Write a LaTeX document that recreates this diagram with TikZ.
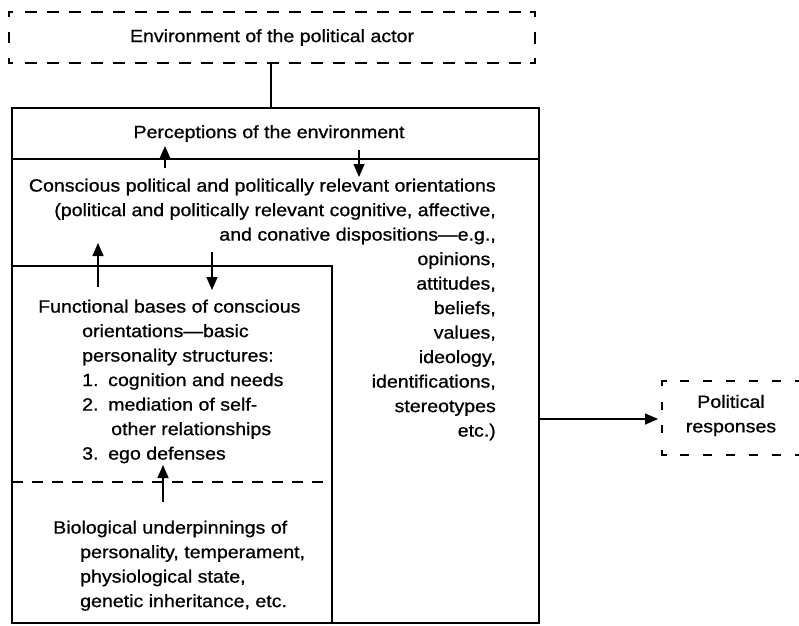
\documentclass[tikz,border=0pt]{standalone}
\usepackage{fontspec}
\setmainfont{Liberation Sans}[FakeStretch=1.1, FakeBold=0.8]
\usetikzlibrary{arrows.meta}
\begin{document}
\begin{tikzpicture}[x=1pt,y=-1pt,
  txt/.style={font=\fontsize{17.8}{24.5}\selectfont, inner sep=0pt},
  solidbox/.style={draw, line width=1.7pt, inner sep=0pt},
  dsh/.style={line width=1.8pt},
  arr/.style={line width=1.5pt, -{Triangle[length=13pt,width=11pt]}},
]
\clip (0,0) rectangle (799,625);
\fill[white] (0,0) rectangle (799,625);

% environment box (dashed)
\node[txt, minimum width=526pt, minimum height=51pt] (env) at (272,37.5) {Environment of the political actor};
\draw[dsh] (9,17) -- (9,12) -- (13,12);
\draw[dsh, dash pattern=on 12pt off 10pt] (25,12) -- (522,12);
\draw[dsh] (530,12) -- (535,12) -- (535,17);
\draw[dsh] (9,58) -- (9,63) -- (13,63);
\draw[dsh, dash pattern=on 12pt off 10pt] (25,63) -- (522,63);
\draw[dsh] (530,63) -- (535,63) -- (535,58);
\draw[dsh] (9,32) -- (9,43);
\draw[dsh] (535,32) -- (535,44);

% main box and compartments
\node[solidbox, minimum width=527pt, minimum height=515pt] (main) at (275.5,365.5) {};
\node[solidbox, minimum width=527pt, minimum height=51pt] (percbox) at (275.5,133.5) {};
\node[txt] (perc) at (269,133.5) {Perceptions of the environment};
\node[solidbox, minimum width=320pt, minimum height=357pt] (inner) at (172,444.5) {};
\coordinate (dl) at (12,482);
\coordinate (dr) at (332,482);
\draw[dsh, dash pattern=on 11pt off 9pt] (dl) -- (dr);

% connector environment -- main
\coordinate (envb) at (271,63);
\draw[line width=1.7pt] (envb) -- (main.north -| envb);

% texts
\node[txt, align=right, anchor=north east] (consc) at (496,178.5) {Conscious political and politically relevant orientations\\(political and politically relevant cognitive, affective,\\and conative dispositions—e.g.,\\opinions,\\attitudes,\\beliefs,\\values,\\ideology,\\identifications,\\stereotypes\\etc.)};

\node[txt, align=left, anchor=north west] (func) at (38,299.5) {Functional bases of conscious\\
\hspace*{44pt}orientations—basic\\
\hspace*{44pt}personality structures:\\
\hspace*{44pt}\makebox[26pt][l]{1.}cognition and needs\\
\hspace*{44pt}\makebox[26pt][l]{2.}mediation of self-\\
\hspace*{44pt}\hspace*{29pt}other relationships\\
\hspace*{44pt}\makebox[26pt][l]{3.}ego defenses};

\node[txt, align=left, anchor=north west] (bio) at (53,520.5) {Biological underpinnings of\\
\hspace*{27pt}personality, temperament,\\
\hspace*{27pt}physiological state,\\
\hspace*{27pt}genetic inheritance, etc.};

\node[txt, align=center] (pol) at (731,415.5) {Political\\responses};
% political responses box (dashed, runs past the right edge)
\draw[dsh] (662,386) -- (662,381) -- (667,381);
\draw[dsh, dash pattern=on 9pt off 14pt] (680,381) -- (810,381);
\draw[dsh] (662,450) -- (662,455) -- (667,455);
\draw[dsh, dash pattern=on 9pt off 14pt] (680,455) -- (810,455);
\draw[dsh] (662,402) -- (662,410);
\draw[dsh] (662,425) -- (662,433);
\coordinate (polw) at (658,419);

% arrows
\coordinate (a1s) at (165,168); \coordinate (a1e) at (165,146);
\coordinate (a2s) at (359,150); \coordinate (a2e) at (359,177);
\coordinate (a3s) at (98,287);  \coordinate (a3e) at (98,243);
\coordinate (a4s) at (212,252); \coordinate (a4e) at (212,290);
\coordinate (a5s) at (163,502); \coordinate (a5e) at (163,465);
\draw[arr] (a1s) -- (a1e);
\draw[arr] (a2s) -- (a2e);
\draw[arr] (a3s) -- (a3e);
\draw[arr] (a4s) -- (a4e);
\draw[arr] (a5s) -- (a5e);
\draw[arr] (main.east |- polw) -- (polw);
\end{tikzpicture}
\end{document}
